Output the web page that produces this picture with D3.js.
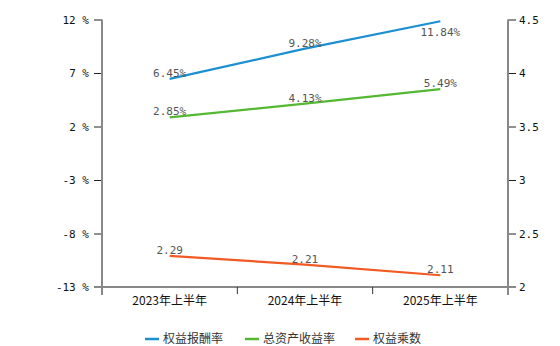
<!DOCTYPE html>
<html><head><meta charset="utf-8">
<script src="https://cdn.jsdelivr.net/npm/d3@7"></script>
<style>body{margin:0;background:#fff}svg{display:block}</style>
</head><body>
<svg id="c" width="560" height="346"></svg>
<script>
const categories = ["2023年上半年","2024年上半年","2025年上半年"];
const roe = [6.45, 9.28, 11.84];
const roa = [2.85, 4.13, 5.49];
const multiplier = [2.29, 2.21, 2.11];
const leftTicks = [-13, -8, -3, 2, 7, 12];
const rightTicks = [2, 2.5, 3, 3.5, 4, 4.5];
const seriesNames = ["权益报酬率","总资产收益率","权益乘数"];
const colors = ["#1b8fd2","#55b832","#f15a22"];

const svg = d3.select("#c");
const L = 102, R = 508, T = 19.5, B = 287;
const x = d3.scaleBand().domain(categories).range([L, R]);
const yL = d3.scaleLinear().domain([-13, 12]).range([B, T]);
const yR = d3.scaleLinear().domain([2, 4.5]).range([B, T]);
const cx = d => x(d) + x.bandwidth()/2;

// Left axis
const gL = svg.append("g").attr("transform", `translate(${L},0)`)
  .call(d3.axisLeft(yL).tickValues(leftTicks).tickSize(8).tickPadding(5).tickFormat(d => d + " %"));
gL.select(".domain").remove();
gL.selectAll(".tick line").attr("stroke", "#222");
gL.selectAll("text").attr("font-family", "DejaVu Sans Mono, monospace").attr("font-size", 11).attr("fill", "#111");
svg.append("line").attr("x1", L).attr("x2", L).attr("y1", T).attr("y2", B + 8).attr("stroke", "#888").attr("stroke-width", 2);

// Right axis
const gR = svg.append("g").attr("transform", `translate(${R},0)`)
  .call(d3.axisRight(yR).tickValues(rightTicks).tickSize(8).tickPadding(3).tickFormat(d3.format("")));
gR.select(".domain").remove();
gR.selectAll(".tick line").attr("stroke", "#222");
gR.selectAll("text").attr("font-family", "DejaVu Sans Mono, monospace").attr("font-size", 11).attr("fill", "#111");
svg.append("line").attr("x1", R).attr("x2", R).attr("y1", T).attr("y2", B + 8).attr("stroke", "#888").attr("stroke-width", 2);

// Bottom axis
svg.append("line").attr("x1", L - 8).attr("x2", R + 8).attr("y1", B).attr("y2", B).attr("stroke", "#888").attr("stroke-width", 2);
categories.slice(1).forEach(c => {
  svg.append("line").attr("x1", x(c)).attr("x2", x(c)).attr("y1", B).attr("y2", B + 7).attr("stroke", "#333").attr("stroke-width", 1);
});
svg.append("g").selectAll("text").data(categories).join("text")
  .attr("x", d => cx(d)).attr("y", B + 18).attr("text-anchor", "middle")
  .attr("font-family", "Noto Sans CJK SC, sans-serif").attr("font-size", 12).attr("fill", "#111")
  .text(d => d);

// Series
const series = [
  {vals: roe, y: yL, fmt: v => v.toFixed(2) + "%", color: colors[0], curve: d3.curveLinear},
  {vals: roa, y: yL, fmt: v => v.toFixed(2) + "%", color: colors[1], curve: d3.curveMonotoneX},
  {vals: multiplier, y: yR, fmt: v => v.toFixed(2), color: colors[2], curve: d3.curveLinear}
];
series.forEach(s => {
  const pts = categories.map((c, i) => [cx(c), s.y(s.vals[i])]);
  svg.append("path").attr("d", d3.line().curve(s.curve)(pts))
    .attr("fill", "none").attr("stroke", s.color).attr("stroke-width", 2.2);
  svg.append("g").selectAll("text").data(pts).join("text")
    .attr("x", d => d[0]).attr("y", d => d[1] < T + 10 ? d[1] + 15 : d[1] - 2)
    .attr("text-anchor", "middle")
    .attr("font-family", "DejaVu Sans Mono, monospace").attr("font-size", 11).attr("fill", "#555")
    .text((d, i) => s.fmt(s.vals[i]));
});

// Legend
const legX = [145, 245, 355];
seriesNames.forEach((n, i) => {
  svg.append("line").attr("x1", legX[i]).attr("x2", legX[i] + 14).attr("y1", 339).attr("y2", 339)
    .attr("stroke", colors[i]).attr("stroke-width", 2.5);
  svg.append("text").attr("x", legX[i] + 18).attr("y", 343)
    .attr("font-family", "Noto Sans CJK SC, sans-serif").attr("font-size", 12).attr("fill", "#333").text(n);
});
</script>
</body></html>
